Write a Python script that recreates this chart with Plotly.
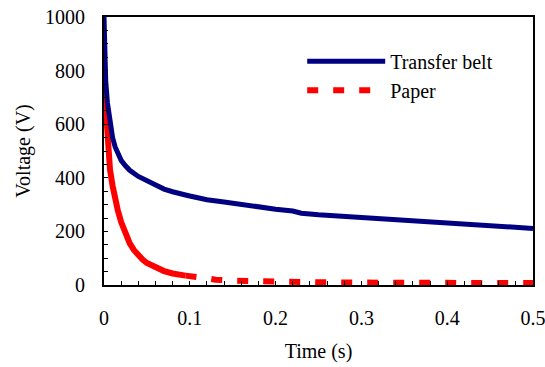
import plotly.graph_objects as go

# Transfer belt
belt_t = [0, 0.001, 0.002, 0.004, 0.006, 0.008, 0.010, 0.013, 0.016, 0.020, 0.025, 0.030,
          0.040, 0.050, 0.060, 0.070, 0.080, 0.090, 0.095, 0.100, 0.110, 0.120, 0.140,
          0.160, 0.180, 0.200, 0.220, 0.230, 0.250, 0.280, 0.300, 0.320, 0.350, 0.380,
          0.400, 0.420, 0.450, 0.480, 0.500]
belt_v = [1000, 850, 760, 680, 630, 590, 550, 515, 490, 465, 445, 428,
          405, 388, 370, 358, 348, 337, 336, 332, 323, 318, 310,
          300, 290, 283, 276, 268, 262, 256, 252, 248, 240, 233,
          228, 224, 219, 214, 211]

# Paper (early, densely sampled part)
paper_t1 = [0, 0.001, 0.002, 0.003, 0.005, 0.007, 0.010, 0.013, 0.016, 0.020, 0.025,
            0.030, 0.035, 0.040, 0.045, 0.050, 0.060, 0.070, 0.080, 0.090, 0.095]
paper_v1 = [760, 700, 640, 580, 500, 430, 370, 320, 280, 235, 190,
            155, 130, 110, 95, 82, 65, 52, 43, 37, 35]
# Paper (later part)
paper_t2 = [0.095, 0.11, 0.13, 0.15, 0.17, 0.20, 0.25, 0.30, 0.35, 0.40, 0.45, 0.50]
paper_v2 = [35, 27, 20, 16, 14, 12, 10, 9, 8, 8, 7, 7]

x_ticks = [0, 0.1, 0.2, 0.3, 0.4, 0.5]
y_ticks = [0, 200, 400, 600, 800, 1000]

font = dict(family="Liberation Serif, Times New Roman, serif", size=20, color="black")

fig = go.Figure()
fig.add_trace(go.Scatter(x=paper_t1, y=paper_v1, mode="lines", showlegend=False,
                         line=dict(color="#FF0000", width=6)))
fig.add_trace(go.Scatter(x=paper_t2, y=paper_v2, mode="lines", name="Paper",
                         legendrank=2,
                         line=dict(color="#FF0000", width=6, dash="11px,15px")))
fig.add_trace(go.Scatter(x=belt_t, y=belt_v, mode="lines", name="Transfer belt",
                         legendrank=1,
                         line=dict(color="#000080", width=5)))

fig.update_layout(
    width=545, height=367,
    margin=dict(l=104, r=12, t=17, b=82, autoexpand=False),
    paper_bgcolor="white", plot_bgcolor="white",
    font=font,
    legend=dict(x=0.462, y=0.908, xanchor="left", yanchor="top", bgcolor="rgba(0,0,0,0)",
                traceorder="normal", itemwidth=78, font=font),
)
fig.update_xaxes(range=[0, 0.5], tickvals=x_ticks, ticktext=[str(v) for v in x_ticks],
                 tickfont=font, automargin=False, ticklabeloverflow="allow",
                 ticks="inside", ticklen=4, tickwidth=1, tickcolor="black",
                 minor=dict(dtick=0.02, ticks="inside", ticklen=4, tickcolor="black"),
                 showline=True, linecolor="black", linewidth=2, mirror=True,
                 showgrid=False, zeroline=False, ticklabelstandoff=14,
                 title=dict(text="Time (s)", font=font, standoff=16))
fig.update_yaxes(range=[0, 1000], tickvals=y_ticks, tickfont=font, automargin=False,
                 ticklabeloverflow="allow",
                 ticks="inside", ticklen=4, tickwidth=1, tickcolor="black",
                 minor=dict(dtick=50, ticks="inside", ticklen=4, tickcolor="black"),
                 showline=True, linecolor="black", linewidth=2, mirror=True,
                 showgrid=False, zeroline=False, ticklabelstandoff=13,
                 title=dict(text="Voltage (V)", font=font, standoff=9))

fig.write_html("out.html", config={"displayModeBar": False},
               post_script="document.body.style.margin='0';document.body.style.overflow='hidden';")
